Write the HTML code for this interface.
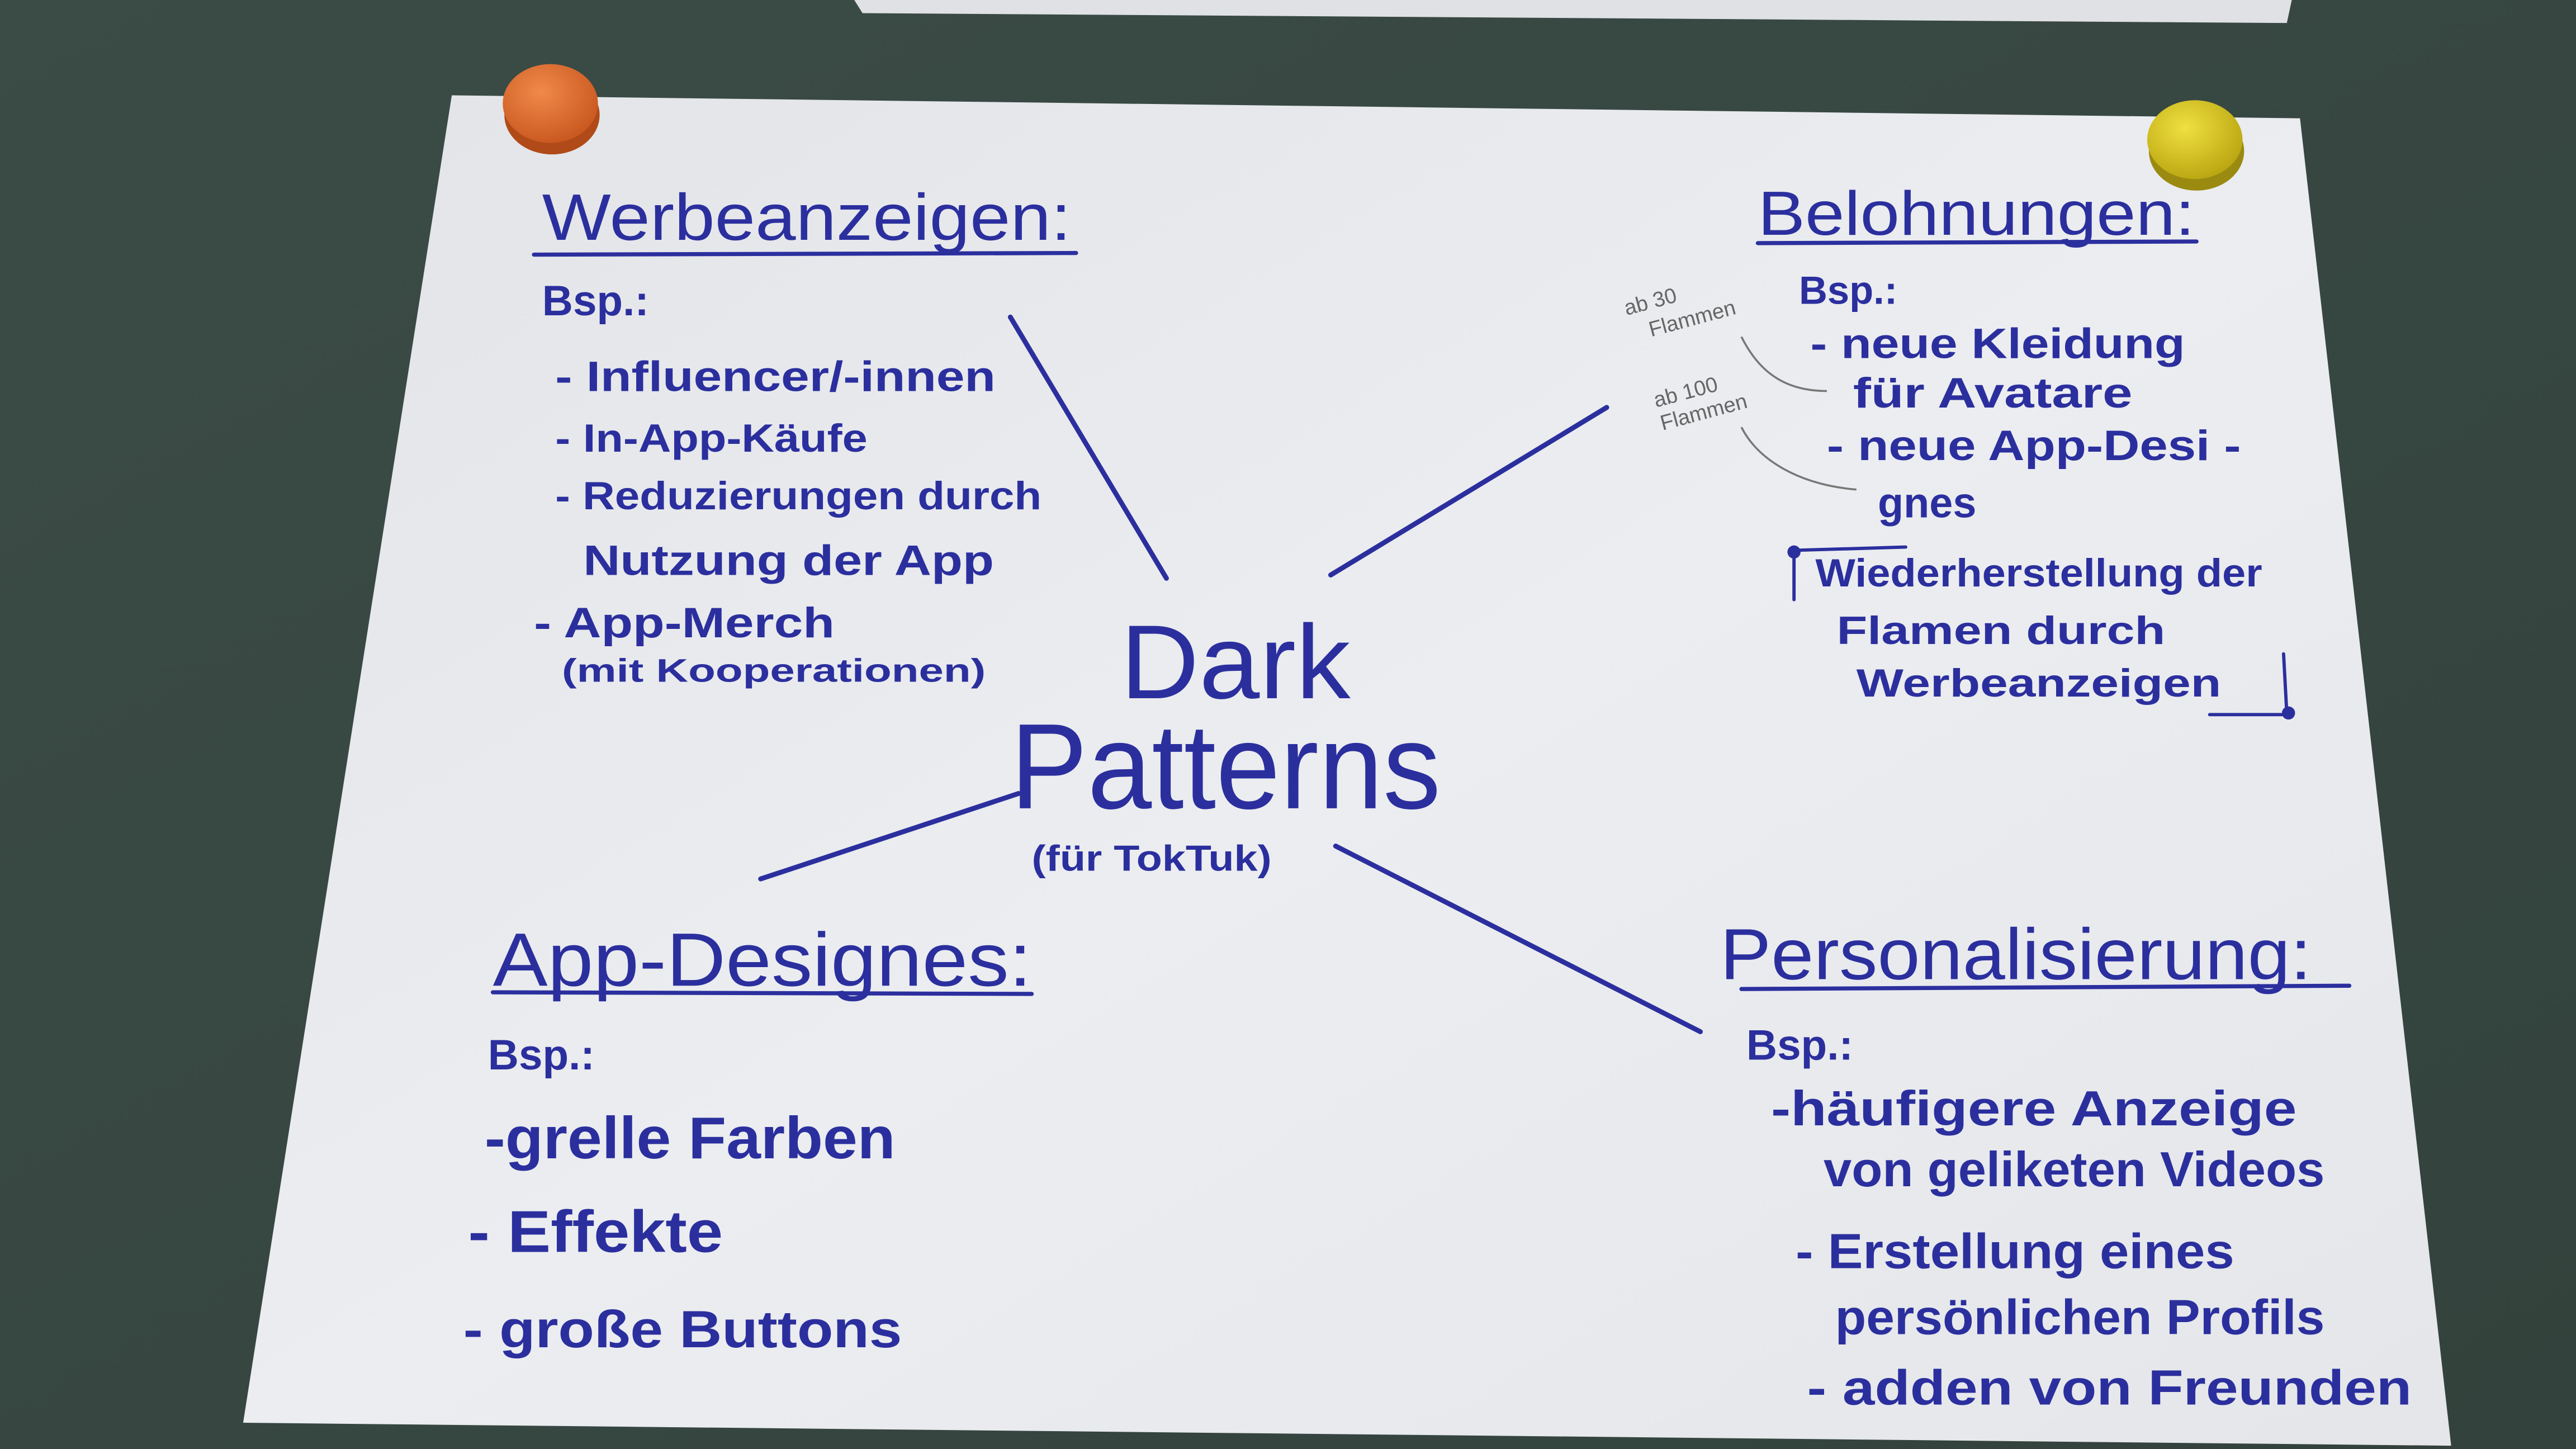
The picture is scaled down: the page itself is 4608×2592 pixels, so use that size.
<!DOCTYPE html>
<html><head><meta charset="utf-8"><style>
html,body{margin:0;padding:0;background:#37463f;}
svg{display:block}
text{font-family:"Liberation Sans",sans-serif;fill:#2b2f9e;}
</style></head><body>
<svg width="4608" height="2592" viewBox="0 0 1568 882" preserveAspectRatio="none" xmlns="http://www.w3.org/2000/svg">
<defs>
<linearGradient id="bg" x1="0" y1="0" x2="1" y2="1"><stop offset="0" stop-color="#3b4b45"/><stop offset="1" stop-color="#33423c"/></linearGradient>
<linearGradient id="pp" x1="0" y1="0" x2="1" y2="1"><stop offset="0" stop-color="#e2e4e8"/><stop offset="0.5" stop-color="#ebedf0"/><stop offset="1" stop-color="#e4e6ea"/></linearGradient>
<radialGradient id="or" cx="0.4" cy="0.35" r="0.7"><stop offset="0" stop-color="#f08a4a"/><stop offset="1" stop-color="#c8561e"/></radialGradient>
<radialGradient id="ye" cx="0.4" cy="0.35" r="0.7"><stop offset="0" stop-color="#f0e040"/><stop offset="1" stop-color="#b8a410"/></radialGradient>
</defs>
<rect width="1568" height="882" fill="url(#bg)"/>
<polygon points="520,0 1395,0 1392,14 525,8" fill="#dfe1e4"/>
<polygon points="275,58 1400,72 1492,880 148,866" fill="url(#pp)"/>
<ellipse cx="336" cy="70" rx="29" ry="24" fill="#b04a18"/>
<ellipse cx="335" cy="63" rx="29" ry="24" fill="url(#or)"/>
<ellipse cx="1337" cy="92" rx="29" ry="24" fill="#9a8a10"/>
<ellipse cx="1336" cy="85" rx="29" ry="24" fill="url(#ye)"/>

<g stroke="#2b2f9e" stroke-width="3" stroke-linecap="round" fill="none">
<line x1="615" y1="193" x2="710" y2="352"/>
<line x1="810" y1="350" x2="978" y2="248"/>
<line x1="463" y1="535" x2="620" y2="483"/>
<line x1="813" y1="515" x2="1035" y2="628"/>
<line x1="325" y1="155" x2="655" y2="154" stroke-width="2.5"/>
<line x1="1070" y1="148" x2="1337" y2="147" stroke-width="2.5"/>
<line x1="300" y1="604" x2="628" y2="605" stroke-width="2.5"/>
<line x1="1060" y1="602" x2="1430" y2="600" stroke-width="2.5"/>
<polyline points="1092,365 1092,335 1160,333" stroke-width="2"/>
<polyline points="1390,398 1392,435 1345,435" stroke-width="2"/>
</g>
<circle cx="1092" cy="336" r="4" fill="#2b2f9e"/>
<circle cx="1393" cy="434" r="4" fill="#2b2f9e"/>
<g stroke="#777" stroke-width="1.2" fill="none">
<path d="M1060,205 C1070,225 1085,238 1112,238"/>
<path d="M1060,260 C1070,280 1095,295 1130,298"/>
</g>
<text x="990" y="192" font-size="13" fill="#666" style="fill:#666" transform="rotate(-15 990 192)">ab 30</text>
<text x="1005" y="205" font-size="13" style="fill:#666" transform="rotate(-15 1005 205)">Flammen</text>
<text x="1008" y="248" font-size="13" style="fill:#666" transform="rotate(-15 1008 248)">ab 100</text>
<text x="1012" y="262" font-size="13" style="fill:#666" transform="rotate(-15 1012 262)">Flammen</text>

<text x="330" y="146" font-size="40" textLength="322" lengthAdjust="spacingAndGlyphs">Werbeanzeigen:</text>
<text x="330" y="192" font-size="26" font-weight="bold">Bsp.:</text>
<text x="338" y="238" font-size="26" textLength="268" lengthAdjust="spacingAndGlyphs" font-weight="bold">- Influencer/-innen</text>
<text x="338" y="275" font-size="24" textLength="190" lengthAdjust="spacingAndGlyphs" font-weight="bold">- In-App-Käufe</text>
<text x="338" y="310" font-size="24" textLength="296" lengthAdjust="spacingAndGlyphs" font-weight="bold">- Reduzierungen durch</text>
<text x="355" y="350" font-size="26" textLength="250" lengthAdjust="spacingAndGlyphs" font-weight="bold">Nutzung der App</text>
<text x="325" y="388" font-size="26" textLength="183" lengthAdjust="spacingAndGlyphs" font-weight="bold">-  App-Merch</text>
<text x="342" y="415" font-size="20" textLength="258" lengthAdjust="spacingAndGlyphs" font-weight="bold">(mit Kooperationen)</text>

<text x="682" y="425" font-size="64" textLength="140" lengthAdjust="spacingAndGlyphs">Dark</text>
<text x="615" y="492" font-size="74" textLength="262" lengthAdjust="spacingAndGlyphs">Patterns</text>
<text x="628" y="530" font-size="22" textLength="146" lengthAdjust="spacingAndGlyphs" font-weight="bold">(für TokTuk)</text>

<text x="1070" y="143" font-size="38" textLength="266" lengthAdjust="spacingAndGlyphs">Belohnungen:</text>
<text x="1095" y="185" font-size="24" font-weight="bold">Bsp.:</text>
<text x="1102" y="218" font-size="26" textLength="228" lengthAdjust="spacingAndGlyphs" font-weight="bold">- neue  Kleidung</text>
<text x="1128" y="248" font-size="26" textLength="170" lengthAdjust="spacingAndGlyphs" font-weight="bold">für  Avatare</text>
<text x="1112" y="280" font-size="26" textLength="252" lengthAdjust="spacingAndGlyphs" font-weight="bold">- neue  App-Desi -</text>
<text x="1143" y="315" font-size="26" textLength="60" lengthAdjust="spacingAndGlyphs" font-weight="bold">gnes</text>
<text x="1105" y="357" font-size="24" textLength="272" lengthAdjust="spacingAndGlyphs" font-weight="bold">Wiederherstellung der</text>
<text x="1118" y="392" font-size="24" textLength="200" lengthAdjust="spacingAndGlyphs" font-weight="bold">Flamen durch</text>
<text x="1130" y="424" font-size="24" textLength="222" lengthAdjust="spacingAndGlyphs" font-weight="bold">Werbeanzeigen</text>

<text x="300" y="600" font-size="46" textLength="328" lengthAdjust="spacingAndGlyphs">App-Designes:</text>
<text x="297" y="651" font-size="26" font-weight="bold">Bsp.:</text>
<text x="295" y="705" font-size="36" textLength="250" lengthAdjust="spacingAndGlyphs" font-weight="bold">-grelle Farben</text>
<text x="285" y="762" font-size="36" textLength="155" lengthAdjust="spacingAndGlyphs" font-weight="bold">- Effekte</text>
<text x="282" y="820" font-size="32" textLength="267" lengthAdjust="spacingAndGlyphs" font-weight="bold">- große  Buttons</text>

<text x="1047" y="596" font-size="44" textLength="360" lengthAdjust="spacingAndGlyphs">Personalisierung:</text>
<text x="1063" y="645" font-size="26" font-weight="bold">Bsp.:</text>
<text x="1078" y="685" font-size="30" textLength="320" lengthAdjust="spacingAndGlyphs" font-weight="bold">-häufigere Anzeige</text>
<text x="1110" y="722" font-size="30" textLength="305" lengthAdjust="spacingAndGlyphs" font-weight="bold">von geliketen Videos</text>
<text x="1093" y="772" font-size="30" textLength="267" lengthAdjust="spacingAndGlyphs" font-weight="bold">- Erstellung eines</text>
<text x="1117" y="812" font-size="30" textLength="298" lengthAdjust="spacingAndGlyphs" font-weight="bold">persönlichen Profils</text>
<text x="1100" y="855" font-size="30" textLength="368" lengthAdjust="spacingAndGlyphs" font-weight="bold">- adden von Freunden</text>
</svg>
</body></html>
